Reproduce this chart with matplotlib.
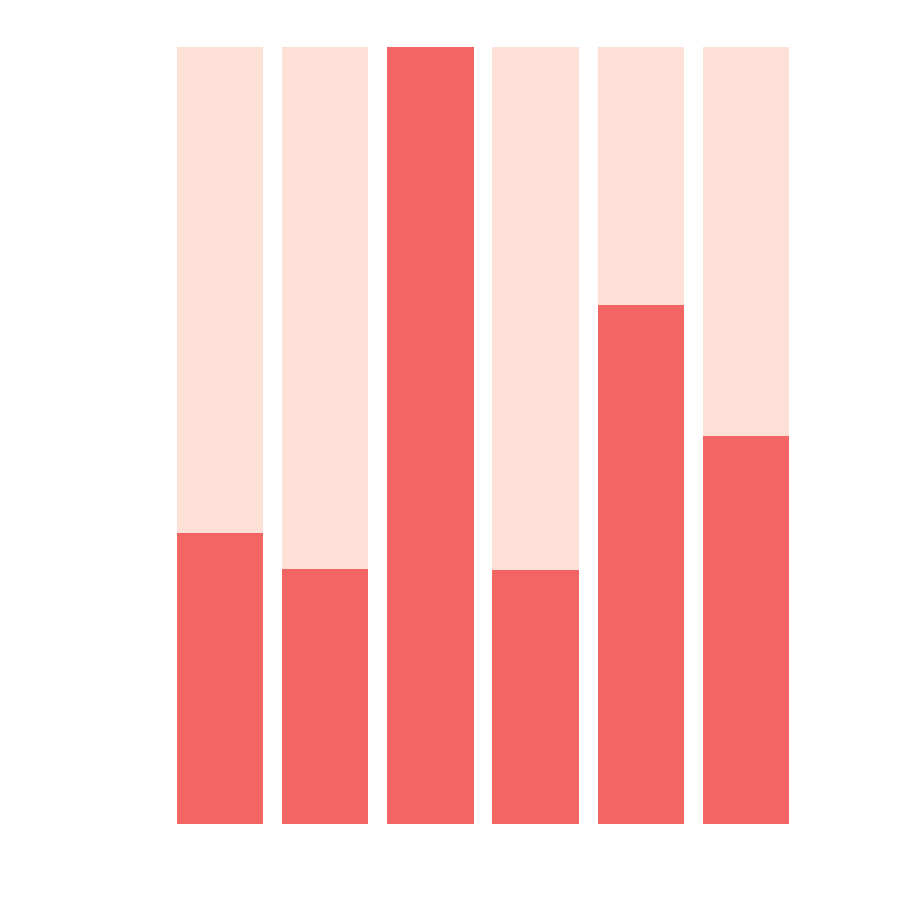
import matplotlib
matplotlib.use("Agg")
import matplotlib.pyplot as plt

# six groups, share of the maximum (percent)
categories = ["A", "B", "C", "D", "E", "F"]
values = [37.5, 32.8, 100.0, 32.7, 66.8, 49.9]
full = [100.0] * len(categories)

fg_color = "#F26562"
bg_color = "#FFE0D7"

fig = plt.figure(figsize=(9.01, 9.05), dpi=100)
ax = fig.add_axes([0.1858, 0.0895, 0.7006, 0.8586])

x = range(len(categories))
ax.bar(x, full, width=0.82, color=bg_color, linewidth=0)
ax.bar(x, values, width=0.82, color=fg_color, linewidth=0)

ax.set_xlim(-0.5, len(categories) - 0.5)
ax.set_ylim(0, 100)
ax.axis("off")

fig.savefig("out.png", dpi=100, facecolor="white")
plt.close(fig)
